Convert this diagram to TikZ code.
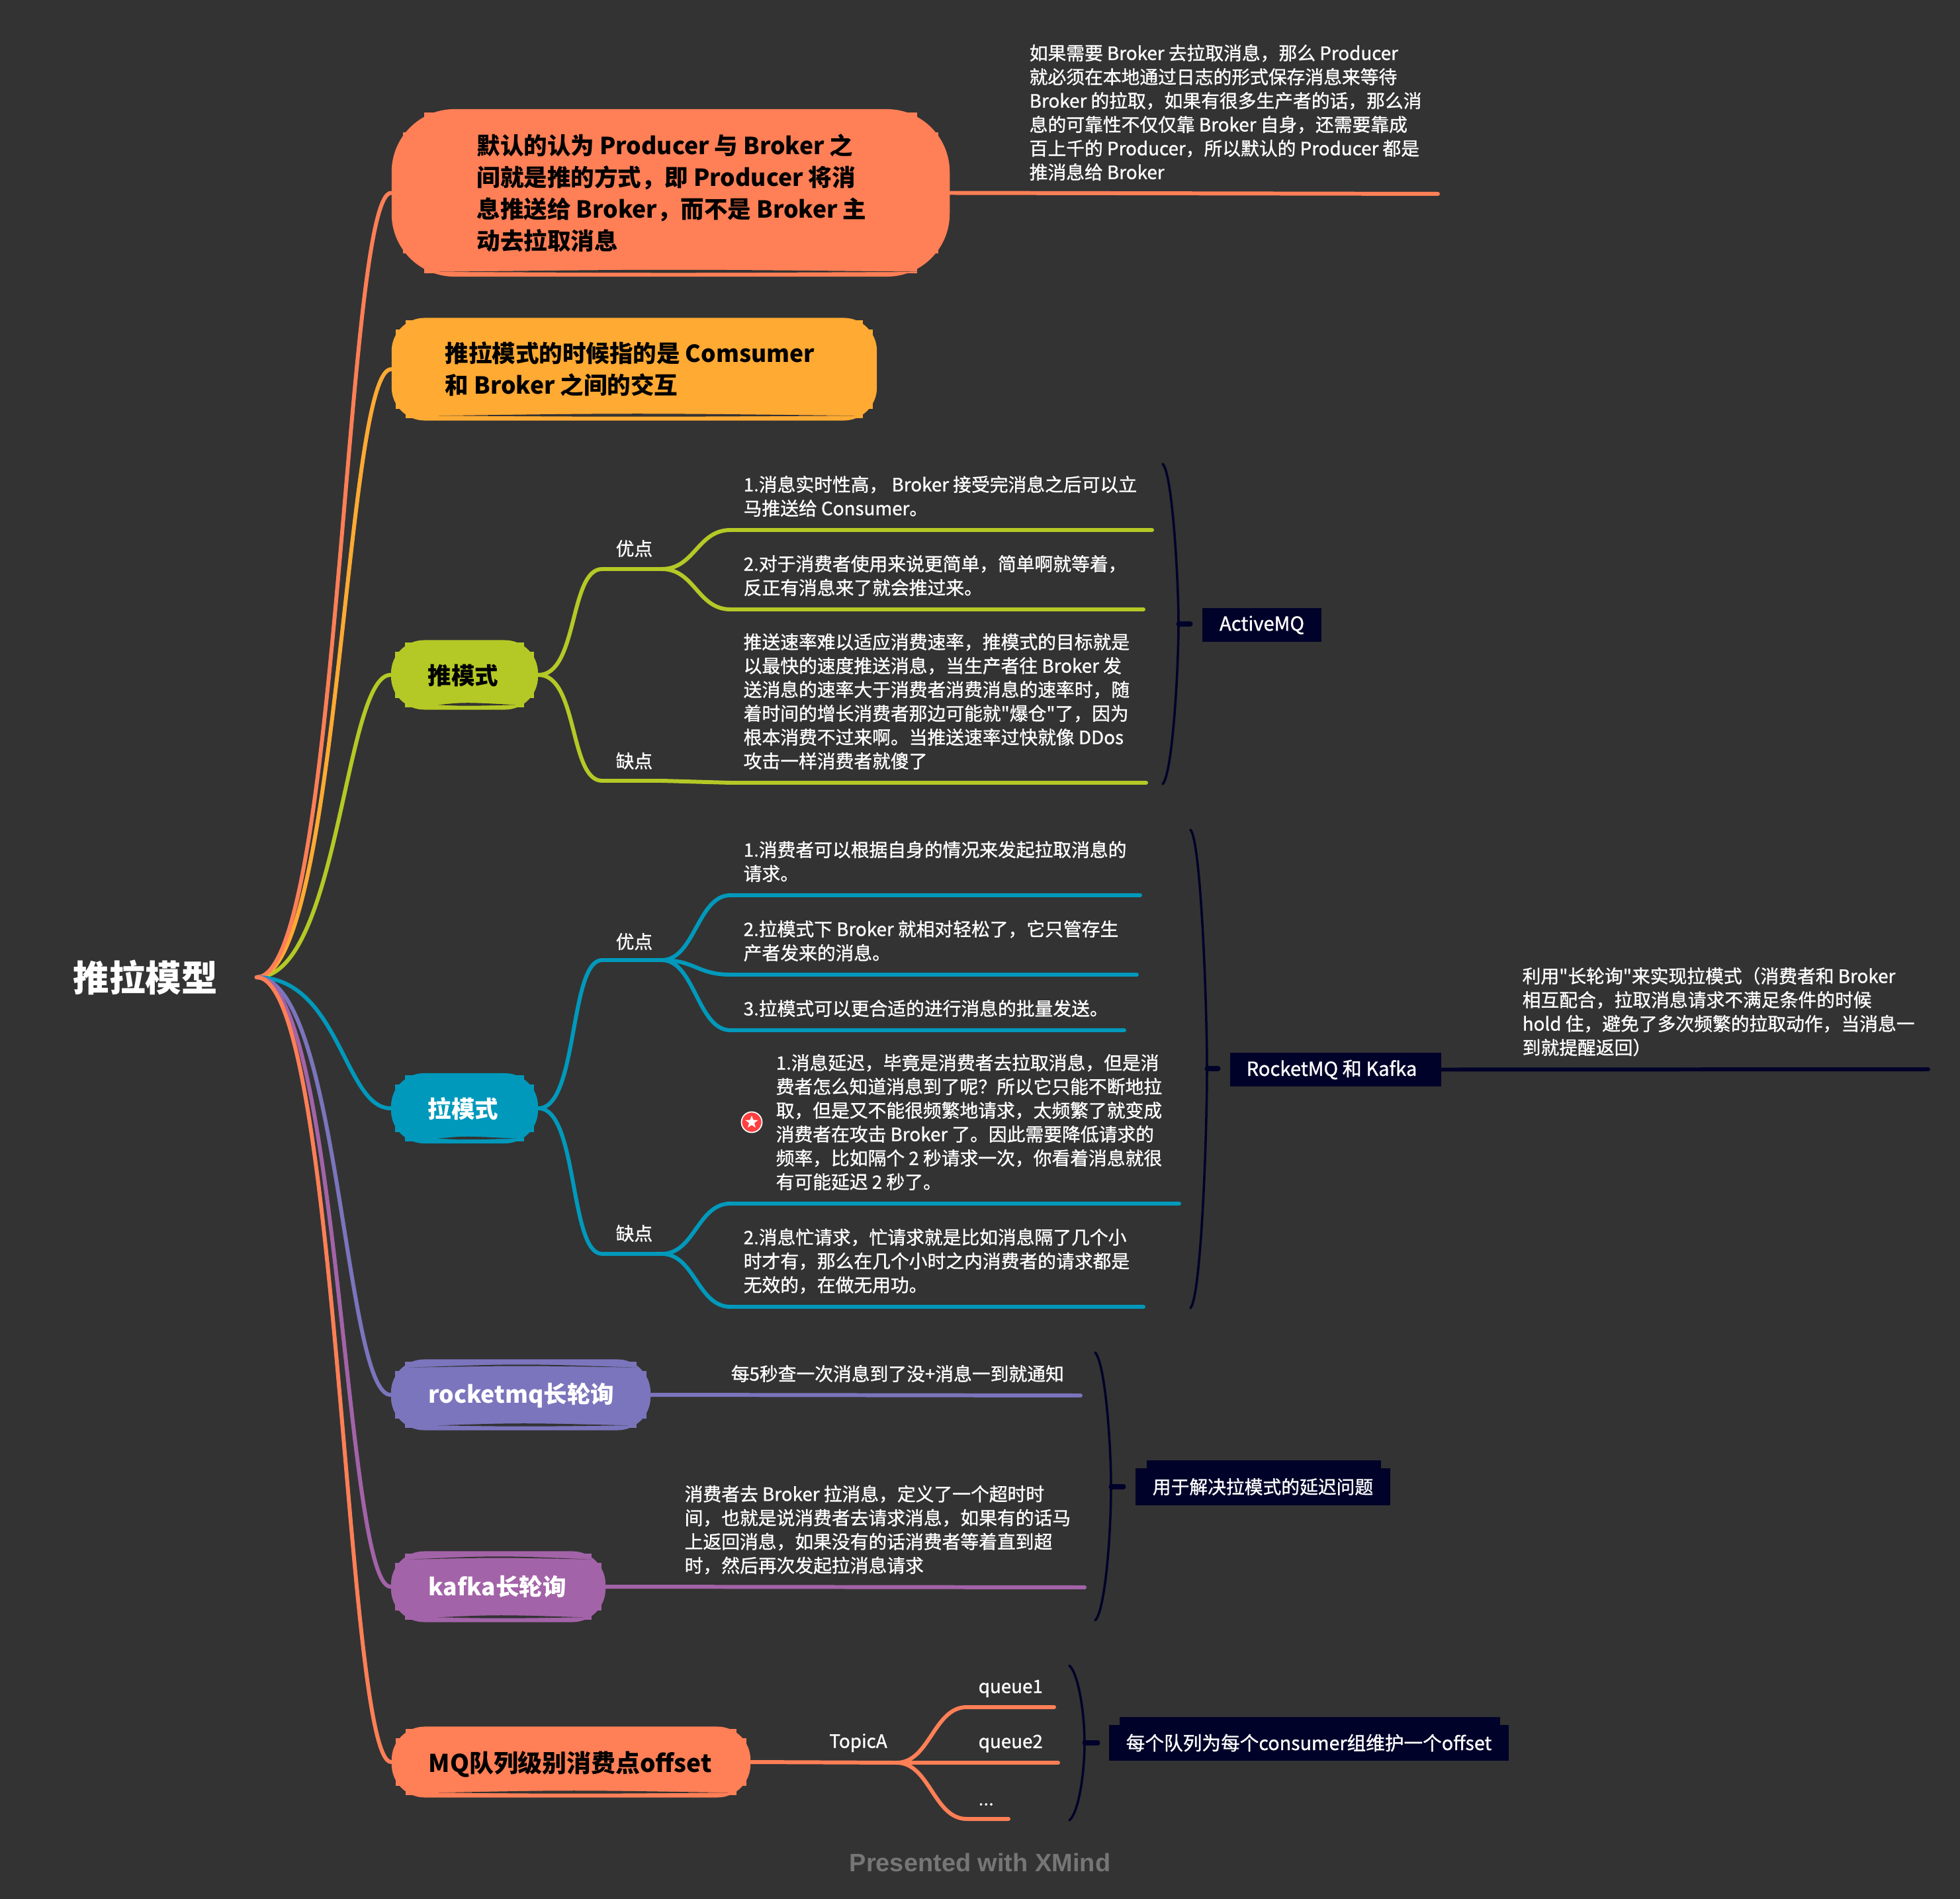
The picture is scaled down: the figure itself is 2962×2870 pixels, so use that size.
\documentclass[tikz,border=0pt]{standalone}
\usepackage{fontspec}
\setmainfont[Ligatures=ResetAll]{Noto Sans CJK SC}
\newfontfamily\leaffont[Ligatures=ResetAll,FakeBold=1.0]{Noto Sans CJK SC}
\setsansfont{Liberation Sans}
\usetikzlibrary{calc,backgrounds,shapes.geometric}

\definecolor{bgcol}{HTML}{333333}
\definecolor{cOrange}{HTML}{FF7F56}
\definecolor{cYellow}{HTML}{FFAA33}
\definecolor{cGreen}{HTML}{B5C926}
\definecolor{cBlue}{HTML}{0099BB}
\definecolor{cPurple}{HTML}{7B75BD}
\definecolor{cViolet}{HTML}{A363A8}
\definecolor{cNavy}{HTML}{000229}

% stepped corners and the dark stroke of a hand filled node
\newcommand{\roughen}[4]{
  \begin{scope}[on background layer]
    \fill[#2] ($(#1.north west)+(#3)$) rectangle ($(#1.south east)-(#3)$);
    \fill[#2] ($(#1.north west)+(#4)$) rectangle ($(#1.south east)-(#4)$);
  \end{scope}
  \fill[bgcol] ($(#1.south west)+(72,-8)$) .. controls ($(#1.south)+(0,-12)$) .. ($(#1.south east)+(-35,-8)$)
     .. controls ($(#1.south)+(0,-6)$) .. ($(#1.south west)+(72,-8)$);
}
\newcommand{\topstroke}[1]{
  \fill[bgcol] ($(#1.north west)+(28,13)$) .. controls ($(#1.north)+(0,10)$) .. ($(#1.north east)+(-22,13)$)
     .. controls ($(#1.north)+(0,7)$) .. ($(#1.north west)+(28,13)$);
}

\begin{document}
\begin{tikzpicture}[x=0.01cm,y=-0.01cm,
    topic/.style ={rectangle, rounded corners=0.5cm, inner sep=0pt},
    topictext/.style ={anchor=west, inner sep=0pt, align=left, text=black, font=\fontsize{10.1}{13.65}\selectfont\bfseries},
    whitetext/.style ={topictext, text=white},
    leaf/.style ={anchor=west, inner sep=0pt, align=left, text=white, font=\fontsize{7.9}{10.24}\selectfont\leaffont},
    summary/.style ={rectangle, fill=cNavy, inner sep=0pt, text=white, font=\fontsize{7.9}{10.24}\selectfont\leaffont},
    branch/.style ={line width=1.7pt, line cap=round},
    bracket/.style ={line width=1pt, cNavy, line cap=round},
    tick/.style ={line width=2pt, cNavy, line cap=round}]

  \begin{scope}[on background layer]
    \fill[bgcol] (0,0) rectangle (2962,2870);
  \end{scope}
  \useasboundingbox (0,0) rectangle (2962,2870);

  \node[inner sep=0pt, text=white, minimum width=3.34cm, font=\fontsize{15.5}{18}\selectfont\bfseries] (root) at (220,1477) {推拉模型};

  % main topics
  \node[topic, fill=cOrange, rounded corners=0.95cm, minimum width=8.43cm, minimum height=2.53cm] (push1) at (1013.5,291.5) {};
  \node[topictext] (push1text) at (720,292)
     {默认的认为 Producer 与 Broker 之\\间就是推的方式，即 Producer 将消\\息推送给 Broker，而不是 Broker 主\\动去拉取消息};
  \node[topic, fill=cYellow, minimum width=7.33cm, minimum height=1.55cm] (push2) at (958.5,558) {};
  \node[topictext] (push2text) at (672,558) {推拉模式的时候指的是 Comsumer\\和 Broker 之间的交互};
  \node[topic, fill=cGreen, minimum width=2.22cm, minimum height=1.05cm] (pushmode) at (702,1020) {};
  \node[topictext, anchor=center] (pushmodetext) at (700,1021) {推模式};
  \node[topic, fill=cBlue, minimum width=2.22cm, minimum height=1.06cm] (pullmode) at (702,1675) {};
  \node[whitetext, anchor=center] (pullmodetext) at (700,1676) {拉模式};
  \node[topic, fill=cPurple, minimum width=3.92cm, minimum height=1.07cm] (rocket) at (787,2108) {};
  \node[whitetext] (rockettext) at (647,2109) {rocketmq长轮询};
  \node[topic, fill=cViolet, minimum width=3.24cm, minimum height=1.07cm] (kafka) at (753,2398) {};
  \node[whitetext] (kafkatext) at (647,2398) {kafka长轮询};
  \node[topic, fill=cOrange, minimum width=5.42cm, minimum height=1.07cm] (offset) at (863,2663) {};
  \node[topictext, font=\fontsize{10.5}{13.65}\selectfont\bfseries] (offsettext) at (647,2666) {MQ队列级别消费点offset};

  \roughen{push1}{cOrange}{18,36}{50,6}
  \roughen{push2}{cYellow}{7,18}{22,4}
  \roughen{pushmode}{cGreen}{7,18}{22,4}
  \roughen{pullmode}{cBlue}{7,18}{22,4}
  \roughen{rocket}{cPurple}{7,18}{22,4}
  \roughen{kafka}{cViolet}{7,18}{22,4}
  \roughen{offset}{cOrange}{7,18}{22,4}
  \topstroke{rocket}
  \topstroke{kafka}

  % connectors from the root
  \draw[branch, cGreen] (root.east) .. controls +(125,0) and +(-70,0) .. (pushmode.west);
  \draw[branch, cYellow] (root.east) .. controls +(125,0) and +(-70,0) .. (push2.west);
  \draw[branch, cOrange] (root.east) .. controls +(125,0) and +(-70,0) .. (push1.west);
  \draw[branch, cBlue] (root.east) .. controls +(125,0) and +(-70,0) .. (pullmode.west);
  \draw[branch, cPurple] (root.east) .. controls +(125,0) and +(-70,0) .. (rocket.west);
  \draw[branch, cViolet] (root.east) .. controls +(125,0) and +(-70,0) .. (kafka.west);
  \draw[branch, cOrange] (root.east) .. controls +(125,0) and +(-70,0) .. (offset.west);

  % first topic
  \node[leaf] (pushnote) at (1555,170)
     {如果需要 Broker 去拉取消息，那么 Producer\\就必须在本地通过日志的形式保存消息来等待\\Broker 的拉取，如果有很多生产者的话，那么消\\息的可靠性不仅仅靠 Broker 自身，还需要靠成\\百上千的 Producer，所以默认的 Producer 都是\\推消息给 Broker};
  \coordinate (pushnoteend) at (2173,293);
  \draw[branch, cOrange] (push1.east) -- (pushnoteend);

  % push mode
  \node[leaf] (goodpush) at (930,829) {优点};
  \node[leaf] (badpush) at (930,1150) {缺点};
  \coordinate (gpa) at (910,860);
  \coordinate (gpb) at (1000,860);
  \coordinate (bpa) at (910,1180);
  \coordinate (bpb) at (1000,1180);
  \draw[branch, cGreen] (pushmode.east) .. controls +(60,0) and +(-50,0) .. (gpa) -- (gpb);
  \draw[branch, cGreen] (pushmode.east) .. controls +(60,0) and +(-50,0) .. (bpa) -- (bpb);

  \node[leaf] (pushgood1) at (1123,750) {1.消息实时性高， Broker 接受完消息之后可以立\\马推送给 Consumer。};
  \node[leaf] (pushgood2) at (1123,870) {2.对于消费者使用来说更简单，简单啊就等着，\\反正有消息来了就会推过来。};
  \node[leaf] (pushbad1) at (1123,1060) {推送速率难以适应消费速率，推模式的目标就是\\以最快的速度推送消息，当生产者往 Broker 发\\送消息的速率大于消费者消费消息的速率时，随\\着时间的增长消费者那边可能就"爆仓"了，因为\\根本消费不过来啊。当推送速率过快就像 DDos\\攻击一样消费者就傻了};
  \coordinate (la) at (1104,801);
  \coordinate (lb) at (1741,801);
  \coordinate (lc) at (1104,921);
  \coordinate (ld) at (1728,921);
  \coordinate (le) at (1104,1183);
  \coordinate (lf) at (1732,1183);
  \draw[branch, cGreen] (gpb) .. controls +(50,0) and +(-50,0) .. (la) -- (lb);
  \draw[branch, cGreen] (gpb) .. controls +(50,0) and +(-50,0) .. (lc) -- (ld);
  \draw[branch, cGreen] (bpb) -- (le) -- (lf);

  \coordinate (amqa) at (1757,701);
  \coordinate (amqm) at (1781,943);
  \coordinate (amqb) at (1757,1185);
  \coordinate (amqt) at (1799,943);
  \draw[bracket] (amqa) .. controls (1772,715) and (1781,880) .. (amqm) .. controls (1781,1010) and (1772,1170) .. (amqb);
  \draw[tick] (amqm) -- (amqt);
  \node[summary, minimum width=1.8cm, minimum height=0.51cm, font=\fontsize{8.3}{10.24}\selectfont\leaffont] (activemq) at (1907,944.5) {ActiveMQ};

  % pull mode
  \node[leaf] (goodpull) at (930,1423) {优点};
  \node[leaf] (badpull) at (930,1864) {缺点};
  \coordinate (gqa) at (910,1451);
  \coordinate (gqb) at (1000,1451);
  \coordinate (bqa) at (910,1895);
  \coordinate (bqb) at (1000,1895);
  \draw[branch, cBlue] (pullmode.east) .. controls +(60,0) and +(-50,0) .. (gqa) -- (gqb);
  \draw[branch, cBlue] (pullmode.east) .. controls +(60,0) and +(-50,0) .. (bqa) -- (bqb);

  \node[leaf] (pullgood1) at (1123,1302) {1.消费者可以根据自身的情况来发起拉取消息的\\请求。};
  \node[leaf] (pullgood2) at (1123,1422) {2.拉模式下 Broker 就相对轻松了，它只管存生\\产者发来的消息。};
  \node[leaf] (pullgood3) at (1123,1524) {3.拉模式可以更合适的进行消息的批量发送。};
  \node[leaf] (pullbad1) at (1172,1696) {1.消息延迟，毕竟是消费者去拉取消息，但是消\\费者怎么知道消息到了呢？所以它只能不断地拉\\取，但是又不能很频繁地请求，太频繁了就变成\\消费者在攻击 Broker 了。因此需要降低请求的\\频率，比如隔个 2 秒请求一次，你看着消息就很\\有可能延迟 2 秒了。};
  \node[leaf] (pullbad2) at (1123,1906) {2.消息忙请求，忙请求就是比如消息隔了几个小\\时才有，那么在几个小时之内消费者的请求都是\\无效的，在做无用功。};
  \node[circle, fill=red!75!white, draw=white, line width=0.5pt, inner sep=0pt, minimum size=0.31cm] (flag) at (1136,1696) {};
  \node[star, star points=5, star point ratio=2.4, fill=white, inner sep=0pt, minimum size=0.2cm] (flagstar) at (flag) {};
  \coordinate (ma) at (1104,1353);
  \coordinate (mb) at (1723,1353);
  \coordinate (mc) at (1104,1473);
  \coordinate (md) at (1718,1473);
  \coordinate (me) at (1104,1557);
  \coordinate (mf) at (1699,1557);
  \coordinate (mg) at (1104,1819);
  \coordinate (mh) at (1782,1819);
  \coordinate (mi) at (1104,1975);
  \coordinate (mj) at (1728,1975);
  \draw[branch, cBlue] (gqb) .. controls +(50,0) and +(-50,0) .. (ma) -- (mb);
  \draw[branch, cBlue] (gqb) .. controls +(50,0) and +(-50,0) .. (mc) -- (md);
  \draw[branch, cBlue] (gqb) .. controls +(50,0) and +(-50,0) .. (me) -- (mf);
  \draw[branch, cBlue] (bqb) .. controls +(50,0) and +(-50,0) .. (mg) -- (mh);
  \draw[branch, cBlue] (bqb) .. controls +(50,0) and +(-50,0) .. (mi) -- (mj);

  \coordinate (rkta) at (1799,1254);
  \coordinate (rktm) at (1824,1615);
  \coordinate (rktb) at (1799,1977);
  \coordinate (rktt) at (1841,1615);
  \draw[bracket] (rkta) .. controls (1815,1270) and (1824,1520) .. (rktm) .. controls (1824,1720) and (1815,1960) .. (rktb);
  \draw[tick] (rktm) -- (rktt);
  \node[summary, minimum width=3.19cm, minimum height=0.51cm, font=\fontsize{8.3}{10.24}\selectfont\leaffont] (rocketkafka) at (2018.5,1616.5) {\hspace{-0.12cm}RocketMQ 和 Kafka};
  \node[leaf] (longnote) at (2300,1529) {利用"长轮询"来实现拉模式（消费者和 Broker\\相互配合，拉取消息请求不满足条件的时候\\hold 住，避免了多次频繁的拉取动作，当消息一\\到就提醒返回）};
  \coordinate (longnoteend) at (2914,1616);
  \draw[branch, cNavy] (rocketkafka.east) -- (longnoteend);

  % long polling
  \node[leaf] (rocketnote) at (1104,2076) {每5秒查一次消息到了没+消息一到就通知};
  \coordinate (rocketend) at (1633,2109);
  \draw[branch, cPurple] (rocket.east) -- (rocketend);
  \node[leaf] (kafkanote) at (1034,2312) {消费者去 Broker 拉消息，定义了一个超时时\\间，也就是说消费者去请求消息，如果有的话马\\上返回消息，如果没有的话消费者等着直到超\\时，然后再次发起拉消息请求};
  \coordinate (kafkaend) at (1639,2399);
  \draw[branch, cViolet] (kafka.east) -- (kafkaend);

  \coordinate (lpa) at (1655,2044);
  \coordinate (lpm) at (1679,2247);
  \coordinate (lpb) at (1655,2449);
  \coordinate (lpt) at (1698,2247);
  \draw[bracket] (lpa) .. controls (1670,2060) and (1679,2180) .. (lpm) .. controls (1679,2320) and (1670,2435) .. (lpb);
  \draw[tick] (lpm) -- (lpt);
  \fill[cNavy] (1733,2207) rectangle (2087,2240);
  \node[summary, minimum width=3.85cm, minimum height=0.56cm] (delayfix) at (1908.5,2247) {用于解决拉模式的延迟问题};

  % offset
  \node[leaf, anchor=center] (topica) at (1297,2634) {TopicA};
  \coordinate (topicend) at (1355,2664);
  \draw[branch, cOrange] (offset.east) -- (topicend);
  \node[leaf] (queue1) at (1478,2552) {queue1};
  \node[leaf] (queue2) at (1478,2635) {queue2};
  \node[leaf] (queue3) at (1478,2727) {...};
  \coordinate (qa) at (1461,2580);
  \coordinate (qb) at (1593,2580);
  \coordinate (qc) at (1461,2664);
  \coordinate (qd) at (1599,2664);
  \coordinate (qe) at (1461,2749);
  \coordinate (qf) at (1524,2749);
  \draw[branch, cOrange] (topicend) .. controls +(50,0) and +(-50,0) .. (qa) -- (qb);
  \draw[branch, cOrange] (topicend) -- (qc) -- (qd);
  \draw[branch, cOrange] (topicend) .. controls +(50,0) and +(-50,0) .. (qe) -- (qf);

  \coordinate (ofa) at (1616,2517);
  \coordinate (ofm) at (1639,2634);
  \coordinate (ofb) at (1616,2751);
  \coordinate (oft) at (1659,2634);
  \draw[bracket] (ofa) .. controls (1630,2530) and (1639,2590) .. (ofm) .. controls (1639,2680) and (1630,2740) .. (ofb);
  \draw[tick] (ofm) -- (oft);
  \fill[cNavy] (1692,2595) rectangle (2267,2630);
  \node[summary, minimum width=6.04cm, minimum height=0.54cm, font=\fontsize{8.15}{10.24}\selectfont\leaffont] (perqueue) at (1978,2634) {每个队列为每个consumer组维护一个offset};

  \node[inner sep=0pt, text=white!33!bgcol, font=\sffamily\fontsize{10.8}{12}\selectfont\bfseries] (xmind) at (1481,2815) {Presented with XMind};
\end{tikzpicture}
\end{document}
